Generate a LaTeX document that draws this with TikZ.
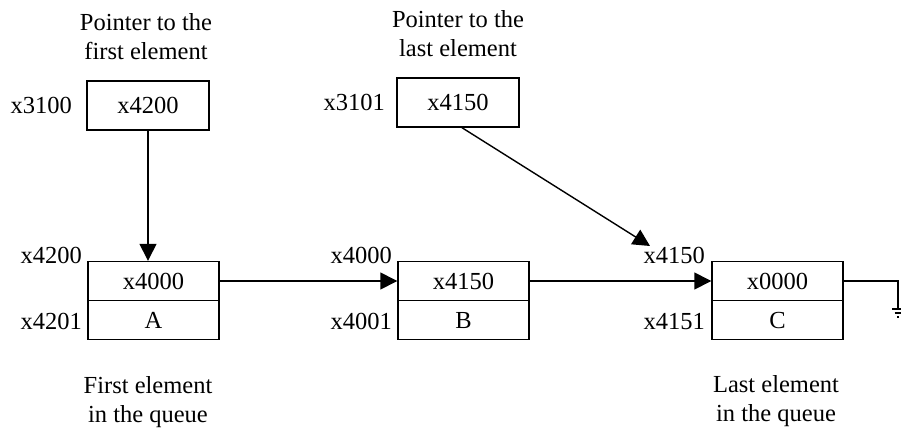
\documentclass[tikz,border=0pt]{standalone}
\usepackage{fontspec}
\setmainfont{Liberation Serif}
\usetikzlibrary{arrows.meta}
\begin{document}
\begin{tikzpicture}[x=1pt,y=-1pt,
  every node/.style={font=\fontsize{24.5}{29}\selectfont, inner sep=0pt},
  cell/.style={draw, line width=1.4pt, minimum width=131pt, minimum height=39pt},
  ptr/.style={draw, line width=1.4pt, minimum width=122pt, minimum height=49pt},
  addr/.style={anchor=base east},
  captxt/.style={align=center, anchor=north},
  link/.style={line width=1.4pt, -{Triangle[length=17pt,width=17pt]}},
  wire/.style={line width=1.4pt}]
\path[use as bounding box] (0,0) rectangle (901,439);
\clip (0,0) rectangle (901,439);

% captions
\node[captxt] (capP1) at (146,13) {Pointer to the\\first element};
\node[captxt] (capP2) at (458,10) {Pointer to the\\last element};
\node[captxt] (capA) at (148,376) {First element\\in the queue};
\node[captxt] (capC) at (776,375) {Last element\\in the queue};

% pointer boxes
\node[ptr] (p1) at (148,105.5) {};
\node[anchor=base] at (148,113.5) {x4200};
\node[addr] (a3100) at (72,113.5) {x3100};
\node[ptr] (p2) at (458,102.5) {};
\node[anchor=base] at (458,110.5) {x4150};
\node[addr] (a3101) at (385,110.5) {x3101};

% element A
\node[cell] (At) at (153.5,281) {};
\node[cell] (Ab) at (153.5,320) {};
\node[anchor=base] at (153.5,289) {x4000};
\node[anchor=base] at (153.5,328) {A};
\node[addr] (a4200) at (82,263) {x4200};
\node[addr] (a4201) at (82,329) {x4201};

% element B
\node[cell] (Bt) at (463.5,281) {};
\node[cell] (Bb) at (463.5,320) {};
\node[anchor=base] at (463.5,289) {x4150};
\node[anchor=base] at (463.5,328) {B};
\node[addr] (a4000) at (392,263) {x4000};
\node[addr] (a4001) at (392,329) {x4001};

% element C
\node[cell] (Ct) at (777.5,281) {};
\node[cell] (Cb) at (777.5,320) {};
\node[anchor=base] at (777.5,289) {x0000};
\node[anchor=base] at (777.5,328) {C};
\node[addr] (a4150) at (705,263) {x4150};
\node[addr] (a4151) at (705,329) {x4151};

% connectors
\draw[link] (p1.south) -- (p1.south |- At.north);
\coordinate (tipC) at (650,246);
\draw[link] ([xshift=4pt]p2.south) -- (tipC);
\draw[link] (At.east) -- (Bt.west);
\draw[link] (Bt.east) -- (Ct.west);

% null pointer to ground
\coordinate (gnd) at (898,309);
\draw[wire] (Ct.east) -- (Ct.east -| gnd) -- (gnd);
\draw[wire] (892,309) -- (904,309);
\draw[wire] (894.5,313) -- (901.5,313);
\draw[wire] (897,317) -- (899,317);
\end{tikzpicture}
\end{document}
